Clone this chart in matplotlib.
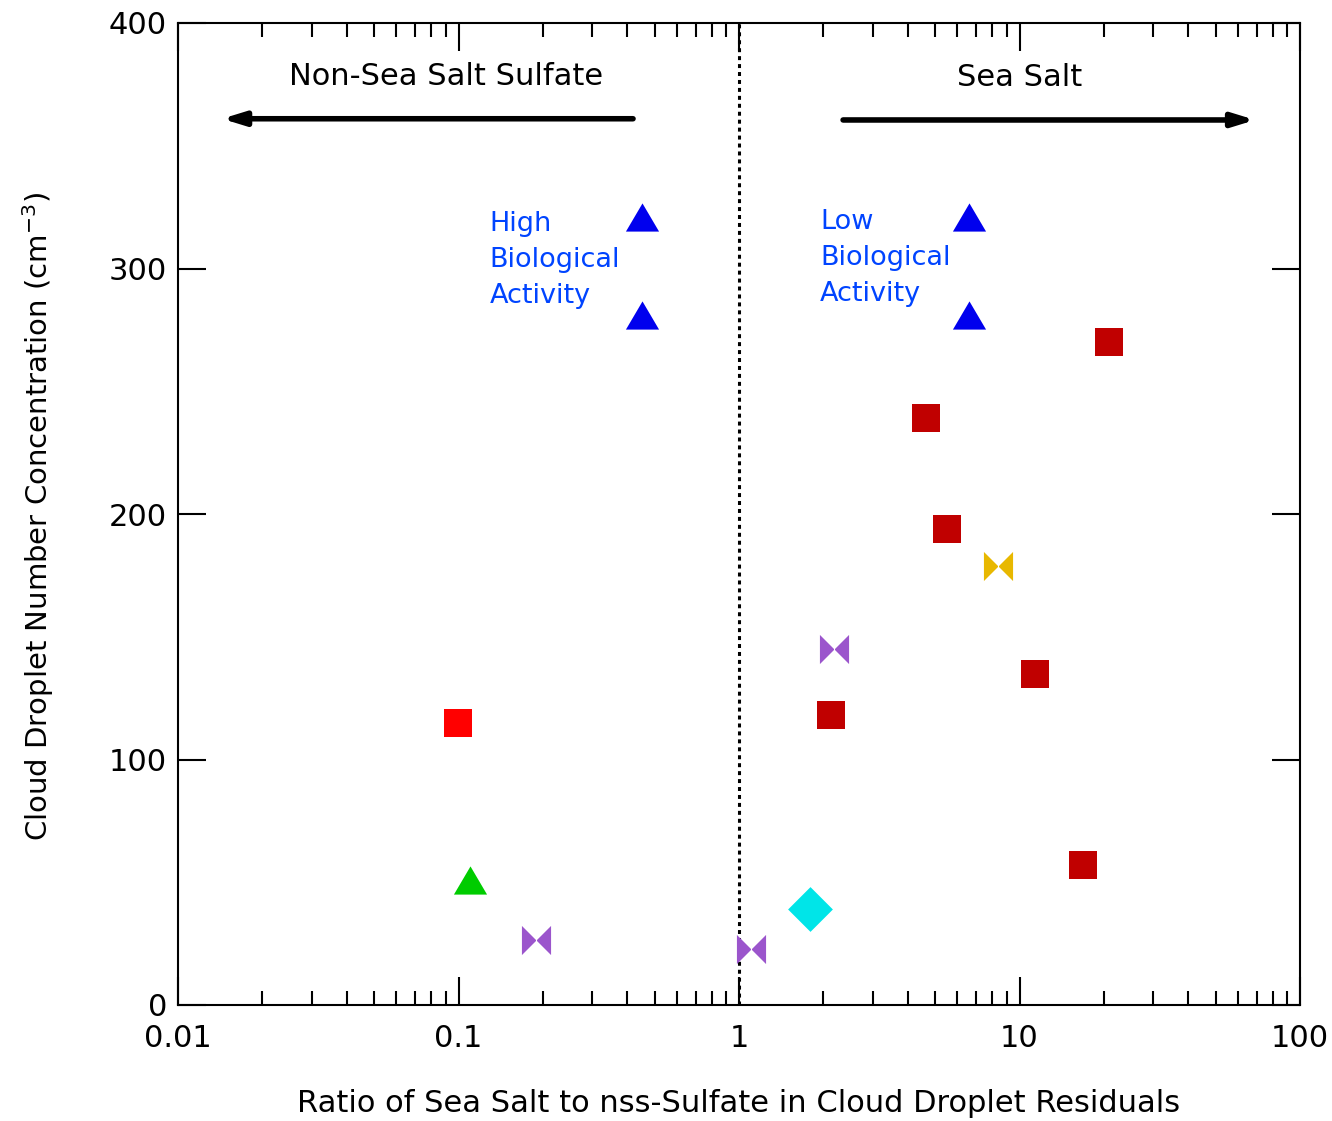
import matplotlib
matplotlib.use("Agg")
import matplotlib.pyplot as plt
from matplotlib.path import Path
from matplotlib.ticker import LogLocator, NullFormatter, FixedLocator
import numpy as np

plt.rcParams['font.family'] = ['DejaVu Sans']

# Data
blue_x = [0.45, 0.45, 6.6, 6.6]
blue_y = [321, 281, 321, 281]
darkred_x = [20.8, 4.64, 5.52, 11.4, 2.13, 16.8]
darkred_y = [270, 239, 194, 135, 118, 57]
red_x = [0.0995]
red_y = [115]
green_x = [0.11]
green_y = [51]
purple_x = [0.189, 1.10, 2.18]
purple_y = [26.5, 23, 145]
gold_x = [8.4]
gold_y = [179]
cyan_x = [1.79]
cyan_y = [39]

xticks = [0.01, 0.1, 1, 10, 100]
xticklabels = ["0.01", "0.1", "1", "10", "100"]
yticks = [0, 100, 200, 300, 400]

bowtie = Path([(-1, 1), (0, 0), (-1, -1), (-1, 1), (1, 1), (0, 0), (1, -1), (1, 1)],
              [Path.MOVETO, Path.LINETO, Path.LINETO, Path.CLOSEPOLY,
               Path.MOVETO, Path.LINETO, Path.LINETO, Path.CLOSEPOLY])
tri = Path([(-1, -0.85), (1, -0.85), (0, 0.85), (-1, -0.85)],
           [Path.MOVETO, Path.LINETO, Path.LINETO, Path.CLOSEPOLY])

fig = plt.figure(figsize=(13.32, 11.21), dpi=100)
ax = fig.add_axes([178/1332, 1 - 1005/1121, (1300-178)/1332, (1005-23)/1121])

ax.set_xscale('log')
ax.set_xlim(0.01, 100)
ax.set_ylim(0, 400)

ax.axvline(1, color='black', linestyle=(0, (1.3, 1.3)), linewidth=2.2, zorder=1)

ax.scatter(blue_x, blue_y, marker=tri, s=570, color='#0000ee', linewidths=0, zorder=3)
ax.scatter(darkred_x, darkred_y, marker='s', s=410, color='#c00000', linewidths=0, zorder=3)
ax.scatter(red_x, red_y, marker='s', s=410, color='#ff0000', linewidths=0, zorder=3)
ax.scatter(green_x, green_y, marker=tri, s=570, color='#00cc00', linewidths=0, zorder=3)
ax.scatter(purple_x, purple_y, marker=bowtie, s=440, color='#9b55cc', linewidths=0, zorder=3)
ax.scatter(gold_x, gold_y, marker=bowtie, s=440, color='#e8b800', linewidths=0, zorder=3)
ax.scatter(cyan_x, cyan_y, marker='D', s=520, color='#00e5e8', linewidths=0, zorder=3)

ax.xaxis.set_major_locator(FixedLocator(xticks))
ax.set_xticklabels(xticklabels)
ax.xaxis.set_minor_locator(LogLocator(base=10, subs=np.arange(2, 10), numticks=20))
ax.xaxis.set_minor_formatter(NullFormatter())
ax.set_yticks(yticks)
ax.tick_params(which='major', direction='in', length=20, width=1.5, top=True, right=True,
               labelsize=22, pad=14)
ax.tick_params(which='minor', direction='in', length=10, width=1.5, top=True, right=True)
ax.tick_params(axis='y', which='major', pad=8)
for s in ax.spines.values():
    s.set_linewidth(1.5)

ax.set_xlabel("Ratio of Sea Salt to nss-Sulfate in Cloud Droplet Residuals", fontsize=22,
              va='center')
ax.set_ylabel("Cloud Droplet Number Concentration (cm$^{-3}$)", fontsize=21, va='center')
ax.xaxis.set_label_coords(0.5, (1005 - 1103) / 982)
ax.yaxis.set_label_coords((38 - 178) / 1122, 0.5 - (516 - 514) / 982)

ax.annotate("", xy=(0.01435, 361), xytext=(0.419, 361),
            arrowprops=dict(arrowstyle='-|>,head_length=1.3,head_width=0.4', lw=4, color='black',
                            shrinkA=0, shrinkB=0))
ax.annotate("", xy=(69.2, 360.5), xytext=(2.35, 360.5),
            arrowprops=dict(arrowstyle='-|>,head_length=1.3,head_width=0.4', lw=4, color='black',
                            shrinkA=0, shrinkB=0))
ax.text(0.0902, 378.4, "Non-Sea Salt Sulfate", fontsize=22, ha='center', va='center')
ax.text(10, 377.6, "Sea Salt", fontsize=22, ha='center', va='center')

ax.text(0.129, 303.5, "High\nBiological\nActivity", fontsize=19.5, color='#0044ff', ha='left',
        va='center', linespacing=1.5)
ax.text(1.945, 304.3, "Low\nBiological\nActivity", fontsize=19.5, color='#0044ff', ha='left',
        va='center', linespacing=1.5)

fig.savefig("out.png", dpi=100)
